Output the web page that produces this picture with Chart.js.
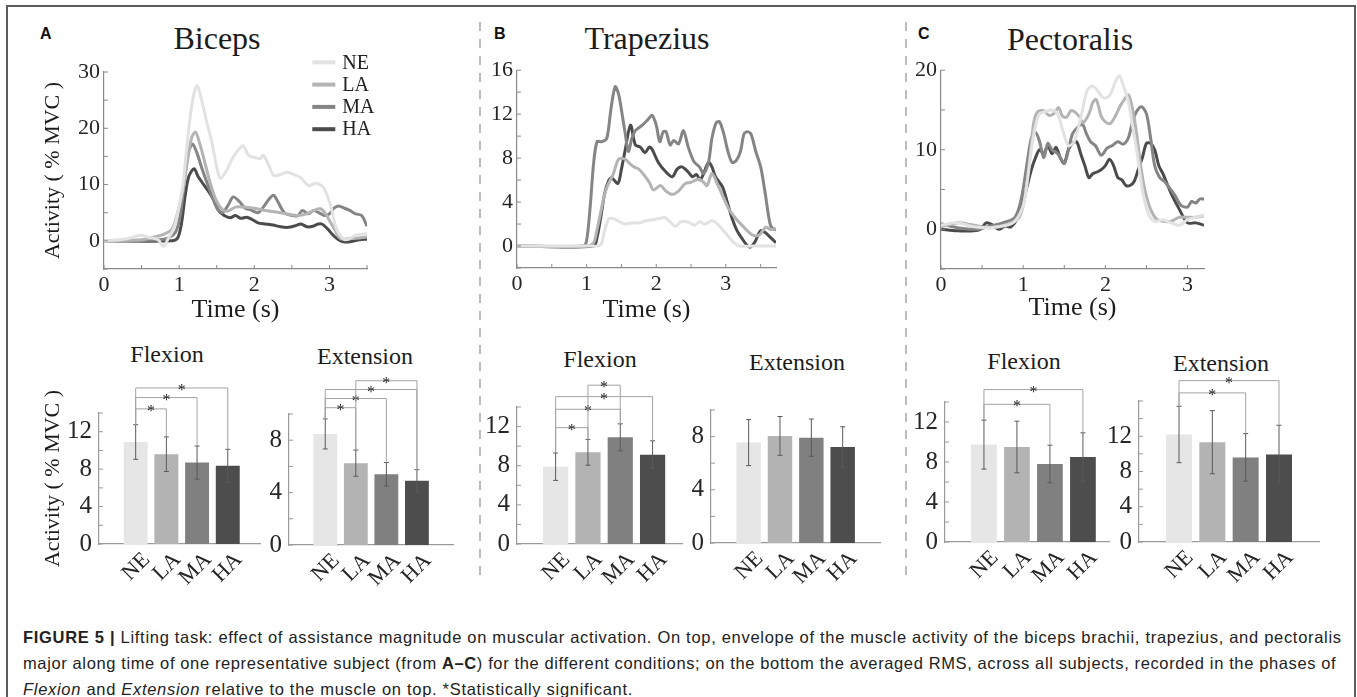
<!DOCTYPE html>
<html>
<head>
<meta charset="utf-8">
<script src="https://cdn.jsdelivr.net/npm/chart.js@4.4.0/dist/chart.umd.min.js"></script>
<style>
  body { margin: 0; width: 1357px; height: 697px; overflow: hidden; position: relative; background: #fff; }
  .frame { position: absolute; left: 6px; top: 5px; width: 1346px; height: 730px; border: 2px solid #5c5c5c; }
  canvas { position: absolute; }
  .lbl { position: absolute; font: bold 16px "Liberation Sans", sans-serif; color: #111; }
  .ttl { position: absolute; white-space: nowrap; color: #1c1c1c; font-family: "Liberation Serif", serif; line-height: 1; transform: translateX(-50%); }
  .cap { position: absolute; left: 23px; white-space: nowrap; font: 16.5px/26px "Liberation Sans", sans-serif; letter-spacing: 0.7px; color: #222; }
  svg { position: absolute; left: 0; top: 0; }
</style>
</head>
<body>
<div class="frame"></div>
<svg width="1357" height="697">
  <line x1="480" y1="22" x2="480" y2="580" stroke="#9a9a9a" stroke-width="1.3" stroke-dasharray="9 8"/>
  <line x1="906" y1="22" x2="906" y2="580" stroke="#9a9a9a" stroke-width="1.3" stroke-dasharray="9 8"/>
</svg>

<div class="lbl" style="left:40px;top:25px">A</div>
<div class="lbl" style="left:494px;top:25px">B</div>
<div class="lbl" style="left:918px;top:25px">C</div>

<div class="ttl" style="left:217px;top:22px;font-size:32px">Biceps</div>
<div class="ttl" style="left:647px;top:22px;font-size:32px">Trapezius</div>
<div class="ttl" style="left:1070px;top:23px;font-size:32px">Pectoralis</div>

<div class="ttl" style="left:167px;top:342px;font-size:24px">Flexion</div>
<div class="ttl" style="left:365px;top:344px;font-size:24px">Extension</div>
<div class="ttl" style="left:600px;top:347px;font-size:24px">Flexion</div>
<div class="ttl" style="left:797px;top:350px;font-size:24px">Extension</div>
<div class="ttl" style="left:1024px;top:349px;font-size:24px">Flexion</div>
<div class="ttl" style="left:1221px;top:351px;font-size:24px">Extension</div>

<canvas id="lineA"></canvas>
<canvas id="lineB"></canvas>
<canvas id="lineC"></canvas>
<canvas id="barAF"></canvas>
<canvas id="barAE"></canvas>
<canvas id="barBF"></canvas>
<canvas id="barBE"></canvas>
<canvas id="barCF"></canvas>
<canvas id="barCE"></canvas>

<div class="cap" style="top:624px"><b>FIGURE 5 |</b> Lifting task: effect of assistance magnitude on muscular activation. On top, envelope of the muscle activity of the biceps brachii, trapezius, and pectoralis</div>
<div class="cap" style="top:650px;letter-spacing:0.62px">major along time of one representative subject (from <b>A–C</b>) for the different conditions; on the bottom the averaged RMS, across all subjects, recorded in the phases of</div>
<div class="cap" style="top:676px"><i>Flexion</i> and <i>Extension</i> relative to the muscle on top. *Statistically significant.</div>

<script>
// ---- data ----
const conditions = ['NE', 'LA', 'MA', 'HA'];
const lineColors = ['#e2e2e2', '#b4b4b4', '#858585', '#4b4b4b'];
const barColors = ['#e6e6e6', '#b3b3b3', '#808080', '#4d4d4d'];
const timeTicks = [0, 1, 2, 3];

// Biceps envelopes (% MVC)
const bicepsNE_t = [0, 0.2, 0.35, 0.48, 0.6, 0.72, 0.79, 0.85, 0.92, 0.97, 1.05, 1.12, 1.18, 1.24, 1.3, 1.36, 1.44, 1.51, 1.55, 1.63, 1.72, 1.85, 1.92, 1.99, 2.08, 2.12, 2.19, 2.26, 2.35, 2.44, 2.52, 2.61, 2.72, 2.8, 2.86, 2.92, 3.01, 3.1, 3.21, 3.35, 3.5];
const bicepsNE   = [0, 0.2, 0.5, 1.0, 0.6, 0.2, -1.0, 0.3, 2.0, 4.2, 10, 19, 25, 27.6, 25, 21.5, 17.2, 12.5, 11.1, 12.5, 14.9, 16.9, 15.2, 14.9, 14.6, 15.2, 13.5, 11.6, 11.8, 12.2, 11.8, 11.3, 9.8, 10.2, 10.1, 9.5, 6.6, 1.9, 0.2, 1.0, 1.3];
const bicepsLA_t = [0, 0.5, 0.7, 0.8, 0.9, 0.97, 1.05, 1.12, 1.17, 1.22, 1.28, 1.35, 1.42, 1.5, 1.58, 1.65, 1.75, 1.85, 2.0, 2.15, 2.35, 2.57, 2.7, 2.79, 2.88, 2.95, 3.01, 3.08, 3.15, 3.3, 3.5];
const bicepsLA   = [0, 0.2, 0.8, 1.2, 2.0, 4.5, 9, 15, 18.5, 19.3, 17, 13.5, 10, 7, 5.5, 5.3, 6.0, 6.0, 5.8, 5.4, 5.0, 4.5, 4.8, 5.4, 5.7, 4.8, 3.4, 1.8, 0.4, 0.4, 0.7];
const bicepsMA_t = [0, 0.8, 0.95, 1.02, 1.08, 1.13, 1.18, 1.24, 1.3, 1.38, 1.45, 1.52, 1.58, 1.65, 1.72, 1.8, 1.88, 1.95, 2.05, 2.12, 2.2, 2.26, 2.32, 2.4, 2.5, 2.58, 2.64, 2.72, 2.79, 2.86, 2.93, 3.0, 3.06, 3.12, 3.2, 3.27, 3.35, 3.43, 3.5];
const bicepsMA   = [0, 0.3, 1.5, 5, 12, 16, 17.2, 15.5, 13, 10, 7.5, 5.5, 5.0, 6.3, 7.8, 7.0, 5.8, 5.5, 5.0, 6.0, 7.5, 8.1, 6.8, 5.0, 4.5, 4.5, 5.4, 4.8, 5.4, 5.0, 4.5, 4.8, 5.8, 6.2, 5.8, 5.4, 4.8, 4.5, 2.6];
const bicepsHA_t = [0, 0.9, 0.98, 1.03, 1.08, 1.13, 1.2, 1.25, 1.3, 1.38, 1.45, 1.52, 1.6, 1.68, 1.75, 1.82, 1.9, 1.97, 2.05, 2.15, 2.25, 2.35, 2.45, 2.55, 2.62, 2.7, 2.78, 2.85, 2.9, 2.97, 3.05, 3.12, 3.2, 3.3, 3.4, 3.5];
const bicepsHA   = [0, 0, 0.5, 3, 8, 11.5, 12.8, 11.5, 10.5, 9, 7.5, 5.5, 4.5, 4.1, 4.5, 4.0, 4.2, 3.8, 3.2, 3.0, 2.8, 2.5, 2.4, 2.7, 3.0, 2.5, 2.6, 3.0, 3.0, 2.2, 1.0, 0.2, -0.2, -0.1, 0.2, 0.3];
const bicepsYTicks = [0, 10, 20, 30];

// Trapezius envelopes (% MVC)
const trapNE_t = [0, 0.5, 1.0, 1.2, 1.25, 1.32, 1.38, 1.45, 1.55, 1.65, 1.75, 1.85, 1.95, 2.05, 2.12, 2.2, 2.28, 2.35, 2.45, 2.55, 2.62, 2.7, 2.8, 2.88, 2.95, 3.02, 3.1, 3.19, 3.4, 3.72];
const trapNE   = [0, 0, 0, 0.1, 1.2, 2.5, 2.5, 2.3, 2.0, 2.1, 2.1, 2.3, 2.4, 2.5, 2.6, 2.2, 1.8, 2.2, 2.2, 1.9, 2.2, 2.0, 2.3, 2.0, 1.5, 1.0, 0.4, 0.0, 0, 0];
const trapLA_t = [0, 1.0, 1.1, 1.15, 1.2, 1.25, 1.3, 1.38, 1.46, 1.55, 1.62, 1.68, 1.75, 1.82, 1.9, 1.96, 2.06, 2.14, 2.23, 2.32, 2.42, 2.5, 2.61, 2.68, 2.73, 2.8, 2.88, 2.96, 3.04, 3.13, 3.23, 3.38, 3.48, 3.57, 3.65, 3.74];
const trapLA   = [0, 0, 0.3, 1.5, 3, 4.5, 5.5, 6.5, 7.9, 7.9, 7.5, 7.2, 7.0, 6.5, 5.8, 5.1, 5.5, 5.0, 4.7, 5.0, 5.7, 5.8, 6.1, 5.8, 5.5, 6.6, 5.6, 4.5, 3.4, 2.6, 1.9, 1.0, 1.0, 1.7, 1.5, 1.6];
const trapMA_t = [0, 0.95, 1.0, 1.05, 1.1, 1.15, 1.22, 1.29, 1.35, 1.41, 1.46, 1.51, 1.56, 1.6, 1.65, 1.7, 1.8, 1.88, 1.94, 2.0, 2.05, 2.1, 2.14, 2.2, 2.25, 2.32, 2.39, 2.46, 2.54, 2.62, 2.68, 2.75, 2.8, 2.86, 2.91, 2.97, 3.03, 3.09, 3.15, 3.21, 3.26, 3.31, 3.36, 3.43, 3.5, 3.56, 3.64, 3.7, 3.76];
const trapMA   = [0, 0, 0.5, 3.5, 7.5, 9.5, 9.5, 9.8, 12.5, 14.5, 13.8, 12.0, 10.0, 8.6, 9.8, 10.5, 11.0, 11.5, 11.9, 11.0, 9.5, 10.4, 10.4, 9.2, 9.6, 9.3, 10.5, 9.0, 7.7, 7.2, 6.6, 7.6, 9.8, 11.2, 11.3, 10.2, 8.6, 7.6, 7.8, 8.6, 10.2, 10.4, 10.2, 8.6, 7.2, 5.0, 1.9, 1.5, 1.5];
const trapHA_t = [0, 1.1, 1.15, 1.2, 1.26, 1.32, 1.36, 1.45, 1.5, 1.55, 1.63, 1.7, 1.77, 1.84, 1.9, 1.94, 2.03, 2.13, 2.23, 2.3, 2.37, 2.45, 2.52, 2.58, 2.63, 2.68, 2.75, 2.8, 2.85, 2.95, 3.02, 3.09, 3.16, 3.23, 3.3, 3.35, 3.42, 3.5, 3.57, 3.62, 3.72];
const trapHA   = [0, 0, 0.8, 2.5, 4.8, 6.0, 6.2, 5.7, 7.0, 8.6, 11.0, 9.2, 9.0, 8.5, 9.0, 8.8, 7.6, 6.8, 6.3, 7.0, 7.2, 6.8, 6.3, 6.5, 6.0, 6.6, 7.6, 7.2, 6.3, 5.4, 4.0, 2.5, 1.4, 0.7, 0.1, -0.1, 0.4, 1.4, 1.2, 0.9, 0.3];
const trapYTicks = [0, 4, 8, 12, 16];

// Pectoralis envelopes (% MVC)
const pectNE_t = [0, 0.2, 0.4, 0.6, 0.8, 0.9, 1.0, 1.05, 1.1, 1.15, 1.2, 1.28, 1.35, 1.42, 1.48, 1.55, 1.62, 1.7, 1.78, 1.85, 1.92, 1.98, 2.05, 2.12, 2.17, 2.22, 2.28, 2.33, 2.38, 2.45, 2.52, 2.6, 2.7, 2.8, 2.9, 3.0, 3.1, 3.2];
const pectNE   = [0.5, 0.8, 0.3, 0.2, 0.5, 1.0, 3.0, 6, 10, 13, 14.5, 14.8, 15, 14.5, 12.5, 10.5, 11, 14, 17.5, 18, 17.2, 16.5, 16.8, 18.5, 19.3, 18, 16, 13, 10, 5, 2, 1, 1.2, 0.8, 0.5, 1.2, 1.5, 1.8];
const pectLA_t = [0, 0.2, 0.4, 0.6, 0.8, 0.95, 1.02, 1.08, 1.13, 1.18, 1.25, 1.32, 1.38, 1.43, 1.48, 1.53, 1.58, 1.62, 1.68, 1.73, 1.8, 1.85, 1.89, 1.95, 2.0, 2.06, 2.12, 2.18, 2.23, 2.28, 2.33, 2.38, 2.43, 2.48, 2.55, 2.62, 2.7, 2.8, 2.9, 3.0, 3.1, 3.2];
const pectLA   = [0.3, 0.8, 0.5, 0.2, 0.6, 1.5, 4, 9, 13.5, 14.8, 14.9, 14.3, 14.6, 15.3, 14.2, 14.1, 14.9, 14.8, 14.2, 13.4, 14.5, 16, 16.3, 14.2, 13.5, 13.3, 14.2, 15.5, 16.3, 16.9, 15.2, 12, 8, 5, 2.5, 1.3, 1.0, 1.0, 1.5, 1.5, 1.5, 1.7];
const pectMA_t = [0, 0.2, 0.45, 0.6, 0.75, 0.9, 0.98, 1.05, 1.1, 1.15, 1.2, 1.25, 1.3, 1.35, 1.42, 1.5, 1.55, 1.6, 1.66, 1.72, 1.77, 1.82, 1.88, 1.95, 2.02, 2.08, 2.15, 2.22, 2.28, 2.33, 2.38, 2.44, 2.5, 2.55, 2.6, 2.66, 2.72, 2.78, 2.85, 2.92, 3.0, 3.05, 3.1, 3.15, 3.2];
const pectMA   = [0.7, 0.2, 0, 0.4, 0.8, 1.5, 4, 8.5, 11.5, 12.2, 11, 9, 10.8, 10, 9.5, 8.3, 10, 12, 12.8, 13.2, 12.0, 11, 10.5, 9.3, 10.2, 10.5, 11, 10.7, 11.5, 13.5, 14.8, 15.4, 14.5, 11.5, 8, 6.5, 6, 5.2, 4.2, 3, 2.8, 3.5, 3.3, 3.8, 3.8];
const pectHA_t = [0, 0.2, 0.4, 0.48, 0.55, 0.62, 0.7, 0.78, 0.85, 0.92, 0.98, 1.05, 1.1, 1.15, 1.2, 1.25, 1.3, 1.35, 1.4, 1.45, 1.5, 1.55, 1.6, 1.65, 1.7, 1.75, 1.8, 1.85, 1.9, 1.95, 2.0, 2.05, 2.1, 2.15, 2.2, 2.25, 2.3, 2.35, 2.4, 2.45, 2.5, 2.55, 2.6, 2.65, 2.7, 2.8, 2.9, 3.0, 3.1, 3.2];
const pectHA   = [0, -0.2, -0.2, 0, 0.8, 0.6, 0, 0.4, 0.3, 1.2, 3, 5.5, 7.5, 9, 10, 9.5, 10.5, 9.5, 10.3, 9.0, 8.3, 10, 10.8, 11, 9.5, 8, 6.5, 7, 7.2, 7.5, 8.0, 8.8, 8.0, 6.5, 6.2, 5.5, 5.5, 6, 7.5, 9, 10.8, 10.8, 10, 8, 7, 4.5, 2.5, 0.8, 0.8, 0.5];
const pectYTicks = [0, 10, 20];

// averaged RMS per phase (% MVC): mean and sd for NE, LA, MA, HA
const bicepsFlexMean = [10.9, 9.6, 8.7, 8.35];
const bicepsFlexSd   = [1.85, 1.85, 1.77, 1.77];
const bicepsExtMean  = [8.48, 6.25, 5.4, 4.9];
const bicepsExtSd    = [1.15, 1.0, 0.9, 0.85];
const trapFlexMean   = [7.9, 9.37, 10.9, 9.13];
const trapFlexSd     = [1.4, 1.32, 1.38, 1.42];
const trapExtMean    = [7.55, 8.05, 7.92, 7.22];
const trapExtSd      = [1.73, 1.46, 1.4, 1.52];
const pectFlexMean   = [9.74, 9.5, 7.8, 8.5];
const pectFlexSd     = [2.45, 2.58, 1.88, 2.42];
const pectExtMean    = [12.2, 11.33, 9.6, 9.93];
const pectExtSd      = [3.2, 3.58, 2.7, 3.32];

// significant pairs (condition indexes) and bracket heights (% MVC)
const bicepsFlexSig = [[0, 1], [0, 2], [0, 3]];
const bicepsFlexSigAt = [14.44, 15.65, 16.68];
const bicepsExtSig = [[0, 1], [0, 2], [0, 3], [1, 3]];
const bicepsExtSigAt = [10.48, 11.18, 11.87, 12.54];
const trapFlexSig = [[0, 1], [0, 2], [0, 3], [1, 2]];
const trapFlexSigAt = [11.89, 13.77, 15.06, 16.23];
const pectFlexSig = [[0, 2], [0, 3]];
const pectFlexSigAt = [13.77, 15.24];
const pectExtSig = [[0, 2], [0, 3]];
const pectExtSigAt = [16.92, 18.31];

const barTicks12 = [0, 4, 8, 12];
const barTicks8 = [0, 4, 8];

// ---- helpers ----
const SERIF = '"Liberation Serif", "DejaVu Serif", serif';
Chart.defaults.font.family = SERIF;
Chart.defaults.color = '#262626';

// put the canvas so the plot area lands on the given page rectangle
function place(id, area, out) {
    const c = document.getElementById(id);
    const w = Math.round(area.r - area.l + out.l + out.r);
    const h = Math.round(area.b - area.t + out.t + out.b);
    c.width = w; c.height = h;
    c.style.width = w + 'px'; c.style.height = h + 'px';
    c.style.left = (area.l - out.l) + 'px';
    c.style.top = (area.t - out.t) + 'px';
    return c;
}

// small ticks pointing into the plot, like the original figure
const inTicks = {
    id: 'inTicks',
    afterDraw(chart, args, o) {
        const ctx = chart.ctx, area = chart.chartArea;
        ctx.save();
        ctx.strokeStyle = o.color; ctx.lineWidth = 1;
        ctx.beginPath();
        (o.axes || []).forEach(ax => {
            const s = chart.scales[ax];
            s.ticks.forEach(t => {
                const p = s.getPixelForValue(t.value);
                if (ax === 'x') { ctx.moveTo(p, area.bottom); ctx.lineTo(p, area.bottom - 4); }
                else { ctx.moveTo(area.left, p); ctx.lineTo(area.left + 4, p); }
            });
        });
        ctx.stroke();
        ctx.restore();
    }
};

const lineLegend = {
    id: 'lineLegend',
    afterDraw(chart, args, o) {
        if (!o.show) return;
        const ctx = chart.ctx, area = chart.chartArea;
        ctx.save();
        chart.data.datasets.forEach((ds, i) => {
            const y = area.top + o.dy + i * o.gap;
            const x0 = area.right + o.dx;
            ctx.strokeStyle = ds.borderColor; ctx.lineWidth = 4;
            ctx.beginPath(); ctx.moveTo(x0, y); ctx.lineTo(x0 + 23, y); ctx.stroke();
            ctx.fillStyle = '#222'; ctx.font = '20px ' + SERIF; ctx.textBaseline = 'middle';
            ctx.fillText(ds.label, x0 + 30, y + 1);
        });
        ctx.restore();
    }
};

// error bars and significance brackets
const sigBars = {
    id: 'sigBars',
    afterDatasetsDraw(chart, args, o) {
        const ctx = chart.ctx, xs = chart.scales.x, ys = chart.scales.y;
        const mean = chart.data.datasets[0].data.map(d => d.y);
        const tops = mean.map((m, i) => m + o.sd[i]);
        ctx.save();
        ctx.strokeStyle = '#5a5a5a'; ctx.lineWidth = 1;
        ctx.beginPath();
        mean.forEach((m, i) => {
            const x = xs.getPixelForValue(i + 1);
            const y1 = ys.getPixelForValue(m + o.sd[i]), y2 = ys.getPixelForValue(m - o.sd[i]);
            ctx.moveTo(x, y1); ctx.lineTo(x, y2);
            ctx.moveTo(x - 2.5, y1); ctx.lineTo(x + 2.5, y1);
            ctx.moveTo(x - 2.5, y2); ctx.lineTo(x + 2.5, y2);
        });
        ctx.stroke();
        ctx.strokeStyle = '#a3a3a3';
        ctx.fillStyle = '#222'; ctx.font = '16px ' + SERIF; ctx.textAlign = 'center'; ctx.textBaseline = 'alphabetic';
        (o.pairs || []).forEach(([a, b], k) => {
            const xa = xs.getPixelForValue(a + 1), xb = xs.getPixelForValue(b + 1);
            const yl = ys.getPixelForValue(o.levels[k]);
            ctx.beginPath();
            ctx.moveTo(xa, ys.getPixelForValue(tops[a])); ctx.lineTo(xa, yl);
            ctx.lineTo(xb, yl); ctx.lineTo(xb, ys.getPixelForValue(tops[b]));
            ctx.stroke();
            ctx.fillText('*', (xa + xb) / 2, yl + 7);
        });
        ctx.restore();
    }
};

function lineChart(id, area, out, series, xMax, yMin, yMax, yStep, yTicks, yTitle, legend) {
    const c = place(id, area, out);
    return new Chart(c, {
        type: 'line',
        data: {
            datasets: series.map((s, i) => ({
                label: conditions[i],
                data: s.t.map((t, k) => ({ x: t, y: s.v[k] })),
                borderColor: lineColors[i],
                borderWidth: 3,
                pointRadius: 0,
                tension: 0.3,
                fill: false
            }))
        },
        options: {
            responsive: false,
            animation: false,
            layout: { padding: { top: out.t, right: out.r, left: 0, bottom: 0 } },
            plugins: {
                legend: { display: false },
                tooltip: { enabled: false },
                inTicks: { axes: ['x', 'y'], color: '#8a8a8a' },
                lineLegend: { show: legend, dx: -54.7, dy: -9.7, gap: 22.3 }
            },
            scales: {
                x: {
                    type: 'linear', min: 0, max: xMax,
                    grid: { display: false, drawTicks: false },
                    border: { color: '#8a8a8a', width: 1.2 },
                    ticks: {
                        stepSize: 0.5, includeBounds: false, autoSkip: false, maxRotation: 0,
                        padding: 3, color: '#262626', font: { size: 22 },
                        callback: v => timeTicks.includes(v) ? String(v) : ''
                    },
                    title: { display: true, text: 'Time (s)', font: { size: 26 }, padding: 0, color: '#1c1c1c' },
                    afterFit: s => { s.height = out.b; }
                },
                y: {
                    type: 'linear', min: yMin, max: yMax,
                    grid: { display: false, drawTicks: false },
                    border: { color: '#8a8a8a', width: 1.2 },
                    ticks: {
                        stepSize: yStep, includeBounds: false, autoSkip: false,
                        padding: 4, color: '#262626', font: { size: 22 },
                        callback: v => yTicks.includes(v) ? String(v) : ''
                    },
                    title: { display: !!yTitle, text: yTitle || '', font: { size: 22 }, padding: 0, color: '#1c1c1c' },
                    afterFit: s => { s.width = out.l; }
                }
            }
        },
        plugins: [inTicks, lineLegend]
    });
}

function barChart(id, area, out, mean, sd, xMin, xMax, yMax, yTicks, pairs, levels, yTitle) {
    const c = place(id, area, out);
    return new Chart(c, {
        type: 'bar',
        data: {
            datasets: [{
                data: mean.map((m, i) => ({ x: i + 1, y: m })),
                backgroundColor: barColors,
                borderWidth: 0,
                categoryPercentage: 1,
                barPercentage: 0.78
            }]
        },
        options: {
            responsive: false,
            animation: false,
            layout: { padding: { top: out.t, right: out.r, left: 0, bottom: 0 } },
            plugins: {
                legend: { display: false },
                tooltip: { enabled: false },
                inTicks: { axes: ['y'], color: '#9a9a9a' },
                sigBars: { sd: sd, pairs: pairs, levels: levels }
            },
            scales: {
                x: {
                    type: 'linear', min: xMin, max: xMax, offset: false,
                    grid: { display: false, drawTicks: false },
                    border: { color: '#9a9a9a', width: 1.2 },
                    afterBuildTicks: s => { s.ticks = conditions.map((c, i) => ({ value: i + 1 })); },
                    ticks: {
                        autoSkip: false, minRotation: 45, maxRotation: 45, labelOffset: 11,
                        padding: 3, color: '#262626', font: { size: 22 },
                        callback: v => conditions[v - 1] || ''
                    },
                    afterFit: s => { s.height = out.b; }
                },
                y: {
                    type: 'linear', min: 0, max: yMax,
                    grid: { display: false, drawTicks: false },
                    border: { color: '#9a9a9a', width: 1.2 },
                    ticks: {
                        stepSize: 2, includeBounds: false, autoSkip: false,
                        padding: 7, color: '#262626', font: { size: 25 },
                        callback: v => yTicks.includes(v) ? String(v) : ''
                    },
                    title: { display: !!yTitle, text: yTitle || '', font: { size: 22 }, padding: 0, color: '#1c1c1c' },
                    afterFit: s => { s.width = out.l; }
                }
            }
        },
        plugins: [inTicks, sigBars]
    });
}

// ---- top row: envelopes ----
lineChart('lineA', { l: 104, t: 71.7, r: 366.7, b: 269 }, { l: 64, t: 22, r: 12, b: 57 },
    [{ t: bicepsNE_t, v: bicepsNE }, { t: bicepsLA_t, v: bicepsLA }, { t: bicepsMA_t, v: bicepsMA }, { t: bicepsHA_t, v: bicepsHA }],
    3.5, -5, 30, 5, bicepsYTicks, 'Activity ( % MVC )', true);

lineChart('lineB', { l: 517.3, t: 62.7, r: 776, b: 267.3 }, { l: 32, t: 10, r: 10, b: 58 },
    [{ t: trapNE_t, v: trapNE }, { t: trapLA_t, v: trapLA }, { t: trapMA_t, v: trapMA }, { t: trapHA_t, v: trapHA }],
    3.72, -2, 16, 2, trapYTicks, null, false);

lineChart('lineC', { l: 940.7, t: 62.7, r: 1204, b: 269 }, { l: 32, t: 10, r: 10, b: 55 },
    [{ t: pectNE_t, v: pectNE }, { t: pectLA_t, v: pectLA }, { t: pectMA_t, v: pectMA }, { t: pectHA_t, v: pectHA }],
    3.2, -5, 20, 5, pectYTicks, null, false);

// ---- bottom row: averaged RMS ----
barChart('barAF', { l: 99, t: 413, r: 260, b: 544 }, { l: 59, t: 45, r: 6, b: 46 },
    bicepsFlexMean, bicepsFlexSd, -0.195, 5.05, 14, barTicks12, bicepsFlexSig, bicepsFlexSigAt, 'Activity ( % MVC )');
barChart('barAE', { l: 288.7, t: 414.3, r: 453, b: 545.3 }, { l: 40, t: 45, r: 6, b: 46 },
    bicepsExtMean, bicepsExtSd, -0.186, 5.18, 10, barTicks8, bicepsExtSig, bicepsExtSigAt, null);
barChart('barBF', { l: 516.7, t: 407, r: 681.7, b: 544 }, { l: 40, t: 45, r: 6, b: 46 },
    trapFlexMean, trapFlexSd, -0.195, 4.91, 14, barTicks12, trapFlexSig, trapFlexSigAt, null);
barChart('barBE', { l: 710.7, t: 410, r: 879.3, b: 542.7 }, { l: 40, t: 45, r: 6, b: 46 },
    trapExtMean, trapExtSd, -0.2, 5.19, 10, barTicks8, [], [], null);
barChart('barCF', { l: 945, t: 401.7, r: 1109, b: 541.7 }, { l: 40, t: 45, r: 6, b: 46 },
    pectFlexMean, pectFlexSd, -0.18, 4.79, 14, barTicks12, pectFlexSig, pectFlexSigAt, null);
barChart('barCE', { l: 1139.3, t: 401.4, r: 1319.3, b: 542.7 }, { l: 40, t: 45, r: 6, b: 46 },
    pectExtMean, pectExtSd, -0.2, 5.2, 16, barTicks12, pectExtSig, pectExtSigAt, null);
</script>
</body>
</html>
